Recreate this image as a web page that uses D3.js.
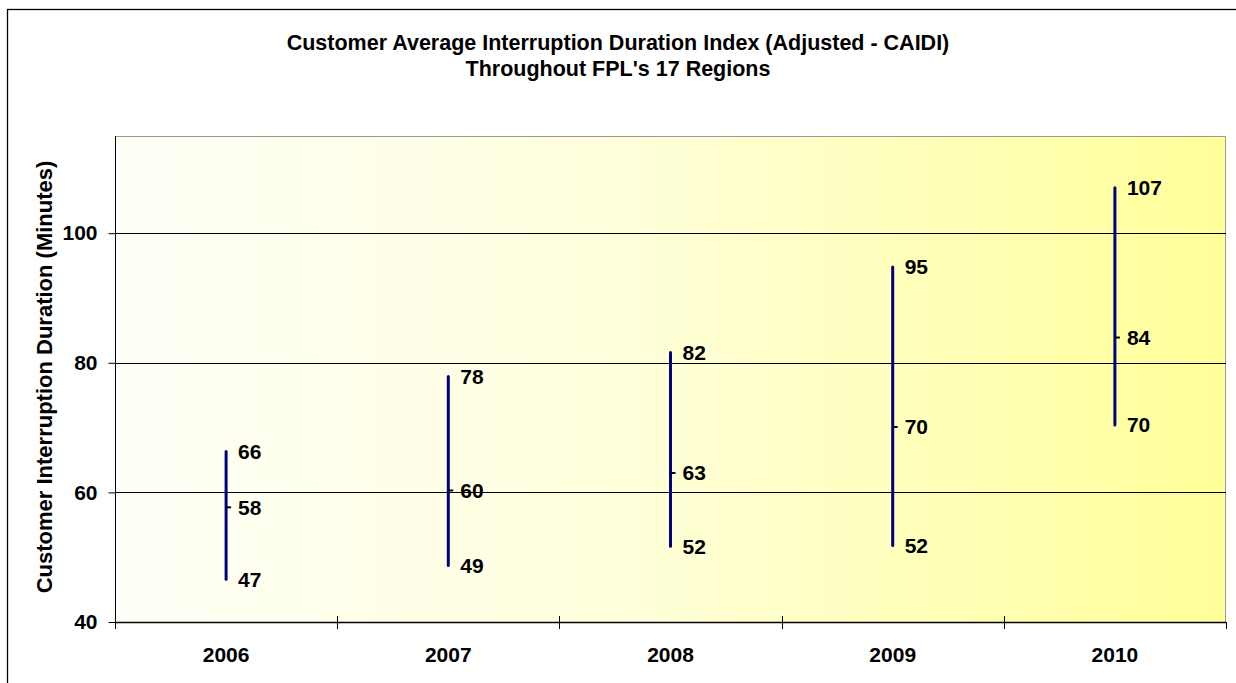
<!DOCTYPE html>
<html>
<head>
<meta charset="utf-8">
<script src="https://cdn.jsdelivr.net/npm/d3@7"></script>
<style>
  body { margin: 0; background: #fff; }
  svg text { font-family: "Liberation Sans", Arial, sans-serif; font-weight: bold; fill: #000; }
</style>
</head>
<body>
<script>
// datos del gráfico: valores máximo, mínimo y mediana por año
const years = ["2006", "2007", "2008", "2009", "2010"];
const highs = [66.3, 77.9, 81.6, 94.8, 107.0];
const lows = [46.6, 48.7, 51.7, 51.8, 70.4];
const mids = [57.7, 60.3, 63.0, 70.1, 83.9];
const yTicks = [40, 60, 80, 100];

let width = 1236, height = 683;
let margin = {left: 115, right: 10, top: 136, bottom: 61};

let svg = d3.select("body").append("svg")
  .attr("width", width)
  .attr("height", height);

// borde exterior (solo se ven arriba e izquierda)
svg.append("rect")
  .attr("x", 7.5).attr("y", 9.5)
  .attr("width", 1300).attr("height", 800)
  .attr("fill", "none").attr("stroke", "#000").attr("stroke-width", 1.3);

let x = d3.scaleBand()
  .domain(years)
  .range([margin.left, width - margin.right]);

let y = d3.scaleLinear()
  .domain([40, 115])
  .range([height - margin.bottom, margin.top]);

//degradado de blanco a amarillo
let grad = svg.append("defs").append("linearGradient")
  .attr("id", "fondo")
  .attr("x1", "0%").attr("x2", "100%").attr("y1", "0%").attr("y2", "0%");
grad.append("stop").attr("offset", "0%").attr("stop-color", "#fffff8");
grad.append("stop").attr("offset", "45%").attr("stop-color", "#ffffdc");
grad.append("stop").attr("offset", "100%").attr("stop-color", "#ffff99");

let x0 = margin.left, x1 = width - margin.right;
let yb = y(40), yt = y(115);

svg.append("rect")
  .attr("x", x0).attr("y", yt)
  .attr("width", x1 - x0).attr("height", yb - yt)
  .attr("fill", "url(#fondo)");

// borde gris arriba y a la derecha
svg.append("path")
  .attr("d", `M${x0},${yt + 0.5}H${x1 - 0.5}V${yb}`)
  .attr("fill", "none").attr("stroke", "#999").attr("stroke-width", 1);

// lineas de cuadricula
svg.selectAll(".grid")
  .data(yTicks.filter(d => d > 40))
  .enter().append("line")
  .attr("x1", x0).attr("x2", x1)
  .attr("y1", d => Math.round(y(d)) + 0.5).attr("y2", d => Math.round(y(d)) + 0.5)
  .attr("stroke", "#000").attr("stroke-width", 1);

// eje Y
let gy = svg.append("g")
  .attr("transform", `translate(${x0 + 0.5},0)`)
  .call(d3.axisLeft(y).tickValues(yTicks).tickSize(7).tickPadding(11).tickSizeOuter(0));
gy.select(".domain").attr("stroke", "#000").attr("d", `M0,${yt}V${yb + 6}`);
gy.selectAll("text").style("font-size", "21px");

// eje X: ticks en los limites de cada categoria
let bounds = years.map(d => x(d)).concat([x1]);
svg.append("line")
  .attr("x1", x0).attr("x2", x1)
  .attr("y1", yb + 0.5).attr("y2", yb + 0.5)
  .attr("stroke", "#000").attr("stroke-width", 1.3);
svg.selectAll(".xtick")
  .data(bounds)
  .enter().append("line")
  .attr("x1", d => Math.round(d) + 0.5).attr("x2", d => Math.round(d) + 0.5)
  .attr("y1", (d, i) => (i == 0 || i == bounds.length - 1) ? yb : yb - 6)
  .attr("y2", yb + 7)
  .attr("stroke", "#000").attr("stroke-width", 1);

let gx = svg.append("g")
  .attr("transform", `translate(0,${yb})`)
  .call(d3.axisBottom(x).tickSize(0).tickPadding(25));
gx.select(".domain").remove();
gx.selectAll("text").style("font-size", "21px");

// lineas alto-bajo
let cx = i => x(years[i]) + x.bandwidth() / 2;
svg.selectAll(".hilo")
  .data(years)
  .enter().append("line")
  .attr("x1", (d, i) => cx(i)).attr("x2", (d, i) => cx(i))
  .attr("y1", (d, i) => y(highs[i])).attr("y2", (d, i) => y(lows[i]))
  .attr("stroke", "#000080").attr("stroke-width", 3).attr("stroke-linecap", "round");

// marca de la mediana
svg.selectAll(".mid")
  .data(years)
  .enter().append("line")
  .attr("x1", (d, i) => cx(i)).attr("x2", (d, i) => cx(i) + 5)
  .attr("y1", (d, i) => y(mids[i])).attr("y2", (d, i) => y(mids[i]))
  .attr("stroke", "#000").attr("stroke-width", 2);

// etiquetas
let fmt = d3.format(".0f");
[highs, mids, lows].forEach(serie => {
  svg.selectAll(null)
    .data(years)
    .enter().append("text")
    .attr("x", (d, i) => cx(i) + 12)
    .attr("y", (d, i) => y(serie[i]))
    .attr("dy", "0.35em")
    .style("font-size", "21px")
    .text((d, i) => fmt(serie[i]));
});

// titulo
let title = svg.append("text")
  .attr("x", 618).attr("text-anchor", "middle")
  .style("font-size", "21.5px");
title.append("tspan").attr("x", 618).attr("y", 50)
  .text("Customer Average Interruption Duration Index (Adjusted - CAIDI)");
title.append("tspan").attr("x", 618).attr("y", 76)
  .text("Throughout FPL's 17 Regions");

// titulo eje Y
svg.append("text")
  .attr("transform", `translate(52,${(yt + yb) / 2 - 2}) rotate(-90)`)
  .attr("text-anchor", "middle")
  .style("font-size", "22px")
  .text("Customer Interruption Duration (Minutes)");
</script>
</body>
</html>
